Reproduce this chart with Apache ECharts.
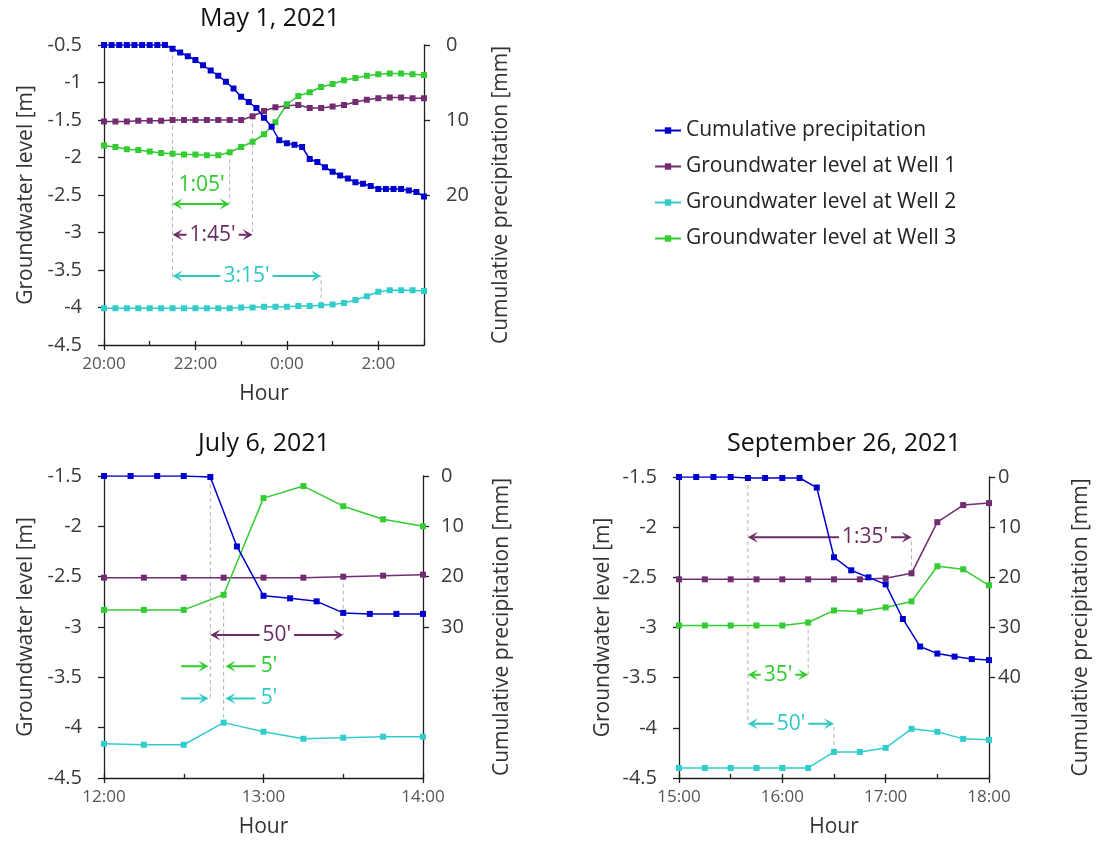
<!DOCTYPE html>
<html>
<head>
<meta charset="utf-8">
<script src="https://cdn.jsdelivr.net/npm/echarts@6/dist/echarts.min.js"></script>
<style>
  html, body { margin: 0; padding: 0; background: #ffffff; }
  #chart { width: 1099px; height: 843px; }
</style>
</head>
<body>
<div id="chart"></div>
<script>
// ---------------------------------------------------------------
// Rain events: cumulative precipitation (10-min) and groundwater
// levels at three wells (15-min).
// ---------------------------------------------------------------
const seriesNames = [
  'Cumulative precipitation',
  'Groundwater level at Well 1',
  'Groundwater level at Well 2',
  'Groundwater level at Well 3'
];

// May 1, 2021 (20:00 -> 03:00)
const mayStart = '20:00';
const mayRain = [0, 0, 0, 0, 0, 0, 0, 0, 0, 0.5, 1.0, 1.5, 2.0, 2.7, 3.4, 4.1, 4.9, 5.8, 6.9, 7.6, 8.4,
  9.7, 10.9, 12.7, 13.1, 13.3, 13.6, 15.2, 15.6, 16.3, 16.9, 17.4, 17.8, 18.3, 18.5, 18.8, 19.2,
  19.2, 19.2, 19.2, 19.4, 19.6, 20.2];
const mayWell1 = [-1.52, -1.52, -1.52, -1.51, -1.51, -1.51, -1.50, -1.50, -1.50, -1.50, -1.50, -1.50,
  -1.50, -1.45, -1.38, -1.33, -1.31, -1.30, -1.34, -1.34, -1.32, -1.30, -1.26, -1.23, -1.21, -1.20,
  -1.20, -1.21, -1.21];
const mayWell2 = [-4.01, -4.01, -4.01, -4.01, -4.01, -4.01, -4.01, -4.01, -4.01, -4.01, -4.01, -4.01,
  -4.00, -4.00, -3.99, -3.99, -3.99, -3.98, -3.98, -3.97, -3.96, -3.94, -3.90, -3.85, -3.79, -3.77,
  -3.77, -3.77, -3.78];
const mayWell3 = [-1.84, -1.86, -1.89, -1.90, -1.92, -1.94, -1.95, -1.96, -1.96, -1.97, -1.97, -1.93,
  -1.86, -1.79, -1.69, -1.53, -1.29, -1.18, -1.13, -1.06, -1.02, -0.97, -0.94, -0.91, -0.89, -0.88,
  -0.88, -0.89, -0.90];
const mayRainTicks = [0, 10, 20];

// July 6, 2021 (12:00 -> 14:00)
const julStart = '12:00';
const julRain = [0, 0, 0, 0, 0.2, 14.0, 23.8, 24.3, 24.9, 27.2, 27.4, 27.4, 27.4];
const julWell1 = [-2.51, -2.51, -2.51, -2.51, -2.51, -2.51, -2.50, -2.49, -2.48];
const julWell2 = [-4.16, -4.17, -4.17, -3.95, -4.04, -4.11, -4.10, -4.09, -4.09];
const julWell3 = [-2.83, -2.83, -2.83, -2.68, -1.72, -1.60, -1.80, -1.93, -2.00];
const julRainTicks = [0, 10, 20, 30];

// September 26, 2021 (15:00 -> 18:00)
const sepStart = '15:00';
const sepRain = [0, 0, 0, 0, 0.2, 0.2, 0.2, 0.2, 2.1, 16.0, 18.6, 20.0, 21.4, 28.3, 33.8, 35.2, 35.8,
  36.3, 36.5];
const sepWell1 = [-2.52, -2.52, -2.52, -2.52, -2.52, -2.52, -2.52, -2.52, -2.51, -2.46, -1.95, -1.78, -1.76];
const sepWell2 = [-4.40, -4.40, -4.40, -4.40, -4.40, -4.40, -4.24, -4.24, -4.20, -4.01, -4.04, -4.11, -4.12];
const sepWell3 = [-2.98, -2.98, -2.98, -2.98, -2.98, -2.95, -2.83, -2.84, -2.80, -2.74, -2.39, -2.42, -2.58];
const sepRainTicks = [0, 10, 20, 30, 40];

// Lag annotations (times on the clock, levels on the groundwater axis)
const mayNotes = [
  { kind: 'guide', t: '21:30', from: -0.55, to: -3.60 },
  { kind: 'guide', t: '22:45', from: -1.93, to: -2.62 },
  { kind: 'guide', t: '23:15', from: -1.45, to: -3.03 },
  { kind: 'guide', t: '00:45', from: -3.97, to: -3.58 },
  { kind: 'span', t1: '21:30', t2: '22:45', y: -2.62, color: '#2ecc2e', text: "1:05'", tx: '22:08', ty: -2.37 },
  { kind: 'span', t1: '21:30', t2: '23:15', y: -3.03, color: '#6a2a66', text: "1:45'", tx: '22:22.5' },
  { kind: 'span', t1: '21:30', t2: '00:45', y: -3.58, color: '#2fc9c4', text: "3:15'", tx: '23:07' }
];
const julNotes = [
  { kind: 'guide', t: '12:40', from: -1.51, to: -3.73 },
  { kind: 'guide', t: '12:45', from: -2.68, to: -3.95 },
  { kind: 'guide', t: '13:30', from: -2.50, to: -3.08 },
  { kind: 'span', t1: '12:40', t2: '13:30', y: -3.08, color: '#6a2a66', text: "50'", tx: '13:05' },
  { kind: 'pointer', t1: '12:29', t2: '12:39.3', y: -3.39, color: '#2ecc2e' },
  { kind: 'pointer', t1: '12:57', t2: '12:45.7', y: -3.39, color: '#2ecc2e' },
  { kind: 'label', tx: '12:59', ty: -3.39, color: '#2ecc2e', text: "5'" },
  { kind: 'pointer', t1: '12:29', t2: '12:39.3', y: -3.71, color: '#2fc9c4' },
  { kind: 'pointer', t1: '12:57', t2: '12:45.7', y: -3.71, color: '#2fc9c4' },
  { kind: 'label', tx: '12:59', ty: -3.71, color: '#2fc9c4', text: "5'" }
];
const sepNotes = [
  { kind: 'guide', t: '15:40', from: -1.51, to: -3.96 },
  { kind: 'guide', t: '17:15', from: -2.46, to: -2.10 },
  { kind: 'guide', t: '16:15', from: -2.95, to: -3.47 },
  { kind: 'guide', t: '16:30', from: -4.24, to: -3.96 },
  { kind: 'span', t1: '15:40', t2: '17:15', y: -2.10, color: '#6a2a66', text: "1:35'", tx: '16:48' },
  { kind: 'span', t1: '15:40', t2: '16:15', y: -3.47, color: '#2ecc2e', text: "35'", tx: '15:57.5' },
  { kind: 'span', t1: '15:40', t2: '16:30', y: -3.96, color: '#2fc9c4', text: "50'", tx: '16:05' }
];

// ---------------------------------------------------------------
const FONT = '"Open Sans", "Noto Sans", sans-serif';
const COLORS = ['#0000cc', '#722c72', '#33cccc', '#33cc33'];
const GUIDE = '#b4b4b4';
const AXIS = '#1e1e1e';

function clock(hhmm) {
  const p = hhmm.split(':');
  return (+p[0]) * 60 + parseFloat(p[1]);
}
function since(start, t) {
  let d = clock(t) - clock(start);
  if (d < -1) d += 1440;
  return d;
}
function clockLabel(start, v) {
  const m = Math.round(clock(start) + v) % 1440;
  const h = Math.floor(m / 60), mm = m % 60;
  return h + ':' + (mm < 10 ? '0' : '') + mm;
}
// pair each reading with its sampling time (minutes from the event start)
function timed(values, step) {
  return values.map((v, i) => [i * step, v]);
}

const events = [
  {
    title: 'May 1, 2021', titleX: 265, titleY: 1,
    start: mayStart, span: 420, major: 120, minor: 60,
    yMin: -4.5, yMax: -0.5, rainMax: 40, rainTicks: mayRainTicks,
    rain: mayRain, wells: [mayWell1, mayWell2, mayWell3], notes: mayNotes,
    grid: { left: 104, top: 45, width: 320, height: 300 },
    leftGap: 67, rightGap: 67, rightMargin: 22, symbolSize: 6
  },
  {
    title: 'July 6, 2021', titleX: 259, titleY: 426,
    start: julStart, span: 120, major: 60, minor: 30,
    yMin: -4.5, yMax: -1.5, rainMax: 60, rainTicks: julRainTicks,
    rain: julRain, wells: [julWell1, julWell2, julWell3], notes: julNotes,
    grid: { left: 104, top: 476, width: 319, height: 302 },
    leftGap: 67, rightGap: 69, rightMargin: 18, symbolSize: 6
  },
  {
    title: 'September 26, 2021', titleX: 839, titleY: 426,
    start: sepStart, span: 180, major: 60, minor: 30,
    yMin: -4.5, yMax: -1.5, rainMax: 60, rainTicks: sepRainTicks,
    rain: sepRain, wells: [sepWell1, sepWell2, sepWell3], notes: sepNotes,
    grid: { left: 679, top: 477, width: 310, height: 301 },
    leftGap: 65, rightGap: 82, rightMargin: 9, symbolSize: 6
  }
];

function arrowHead(x, y, dir, color) {
  const L = 10, W = 5.5;
  return {
    type: 'polygon',
    shape: { points: [[x, y], [x - dir * L, y - W], [x - dir * L * 0.55, y], [x - dir * L, y + W]] },
    style: { fill: color }
  };
}

function noteSeries(ev, k) {
  const notes = ev.notes;
  return {
    type: 'custom',
    xAxisIndex: 2 * k,
    yAxisIndex: 2 * k,
    silent: true,
    clip: false,
    z: 1,
    data: notes.map((n, i) => [since(ev.start, n.t || n.t1 || n.tx), n.y !== undefined ? n.y : (n.from !== undefined ? n.from : n.ty), i]),
    encode: { x: 0, y: 1 },
    renderItem(params, api) {
      const n = notes[params.dataIndex];
      const P = (t, v) => api.coord([since(ev.start, t), v]);
      const kids = [];
      if (n.kind === 'guide') {
        const a = P(n.t, n.from), b = P(n.t, n.to);
        kids.push({
          type: 'line',
          shape: { x1: a[0], y1: a[1], x2: b[0], y2: b[1] },
          style: { stroke: GUIDE, lineWidth: 1, lineDash: [4, 3] }
        });
      } else if (n.kind === 'span' || n.kind === 'pointer') {
        const a = P(n.t1, n.y), b = P(n.t2, n.y);
        const dir = Math.sign(b[0] - a[0]);
        const xa = n.kind === 'span' ? a[0] + dir * 6 : a[0];
        kids.push({
          type: 'line',
          shape: { x1: xa, y1: a[1], x2: b[0] - dir * 6, y2: b[1] },
          style: { stroke: n.color, lineWidth: 2 }
        });
        kids.push(arrowHead(b[0], b[1], dir, n.color));
        if (n.kind === 'span') kids.push(arrowHead(a[0], a[1], -dir, n.color));
        if (n.text) {
          const c = P(n.tx, n.ty !== undefined ? n.ty : n.y);
          kids.push({
            type: 'text',
            x: c[0], y: c[1],
            style: {
              text: n.text, fill: n.color, font: '21px ' + FONT,
              align: 'center', verticalAlign: 'middle',
              backgroundColor: n.ty !== undefined ? 'transparent' : '#ffffff',
              padding: [0, 3]
            }
          });
        }
      } else if (n.kind === 'label') {
        const c = P(n.tx, n.ty);
        kids.push({
          type: 'text',
          x: c[0], y: c[1],
          style: { text: n.text, fill: n.color, font: '21px ' + FONT, align: 'left', verticalAlign: 'middle' }
        });
      }
      return { type: 'group', children: kids };
    }
  };
}

const option = {
  animation: false,
  backgroundColor: '#ffffff',
  textStyle: { fontFamily: FONT },
  title: events.map(ev => ({
    text: ev.title, left: ev.titleX, top: ev.titleY, textAlign: 'center',
    textStyle: { fontFamily: FONT, fontSize: 25, fontWeight: 'normal', color: '#111111' }
  })),
  legend: {
    orient: 'vertical', left: 649, top: 115, itemGap: 15, itemWidth: 26, itemHeight: 8,
    data: seriesNames,
    textStyle: { fontFamily: FONT, fontSize: 21, color: '#222222' }
  },
  grid: events.map(ev => Object.assign({ containLabel: false }, ev.grid)),
  xAxis: [],
  yAxis: [],
  series: []
};

events.forEach((ev, k) => {
  // main time axis: labelled major ticks crossing outward
  option.xAxis.push({
    type: 'value', gridIndex: k, position: 'bottom', min: 0, max: ev.span, interval: ev.major,
    name: 'Hour', nameLocation: 'middle', nameGap: 39,
    nameTextStyle: { fontFamily: FONT, fontSize: 21, color: '#333333' },
    axisLine: { show: true, onZero: false, lineStyle: { color: AXIS, width: 1.3 } },
    axisTick: { show: true, inside: false, length: 5, lineStyle: { color: AXIS, width: 1.3 } },
    axisLabel: {
      show: true, margin: 11, fontFamily: FONT, fontSize: 17, color: '#555555',
      formatter: v => clockLabel(ev.start, v),
      showMaxLabel: ev.span % ev.major === 0
    },
    splitLine: { show: false }
  });
  // inner ticks at every hour / half hour
  option.xAxis.push({
    type: 'value', gridIndex: k, position: 'bottom', min: 0, max: ev.span, interval: ev.minor,
    axisLine: { show: false, onZero: false },
    axisTick: { show: true, inside: true, length: 4, lineStyle: { color: AXIS, width: 1.3 } },
    axisLabel: { show: false },
    splitLine: { show: false }
  });
  option.yAxis.push({
    type: 'value', gridIndex: k, min: ev.yMin, max: ev.yMax, interval: 0.5, position: 'left',
    name: 'Groundwater level [m]', nameLocation: 'middle', nameGap: ev.leftGap,
    nameTextStyle: { fontFamily: FONT, fontSize: 21, color: '#333333' },
    axisLine: { show: true, onZero: false, lineStyle: { color: AXIS, width: 1.3 } },
    axisTick: { show: true, inside: false, length: 6, lineStyle: { color: AXIS, width: 1.3 } },
    axisLabel: { margin: 22, fontFamily: FONT, fontSize: 20, color: '#3a3a3a' },
    splitLine: { show: false }
  });
  option.yAxis.push({
    type: 'value', gridIndex: k, min: 0, max: ev.rainMax, inverse: true, position: 'right',
    name: 'Cumulative precipitation [mm]', nameLocation: 'middle', nameGap: ev.rightGap,
    nameRotate: 90,
    nameTextStyle: { fontFamily: FONT, fontSize: 21, color: '#333333' },
    axisLine: { show: true, onZero: false, lineStyle: { color: AXIS, width: 1.3 } },
    axisTick: { show: true, inside: false, length: 6, customValues: ev.rainTicks, lineStyle: { color: AXIS, width: 1.3 } },
    axisLabel: { margin: ev.rightMargin, customValues: ev.rainTicks, fontFamily: FONT, fontSize: 20, color: '#3a3a3a' },
    splitLine: { show: false }
  });

  const lineStyle = c => ({ color: c, width: 1.5 });
  ev.wells.forEach((w, j) => {
    option.series.push({
      name: seriesNames[j + 1], type: 'line', xAxisIndex: 2 * k, yAxisIndex: 2 * k,
      data: timed(w, 15), symbol: 'rect', symbolSize: ev.symbolSize, showAllSymbol: true,
      itemStyle: { color: COLORS[j + 1] }, lineStyle: lineStyle(COLORS[j + 1]), z: 2
    });
  });
  option.series.push({
    name: seriesNames[0], type: 'line', xAxisIndex: 2 * k, yAxisIndex: 2 * k + 1,
    data: timed(ev.rain, 10), symbol: 'rect', symbolSize: ev.symbolSize, showAllSymbol: true,
    itemStyle: { color: COLORS[0] }, lineStyle: lineStyle(COLORS[0]), z: 3
  });
  option.series.push(noteSeries(ev, k));
});

const chart = echarts.init(document.getElementById('chart'), null, { renderer: 'canvas' });
chart.setOption(option);
</script>
</body>
</html>
